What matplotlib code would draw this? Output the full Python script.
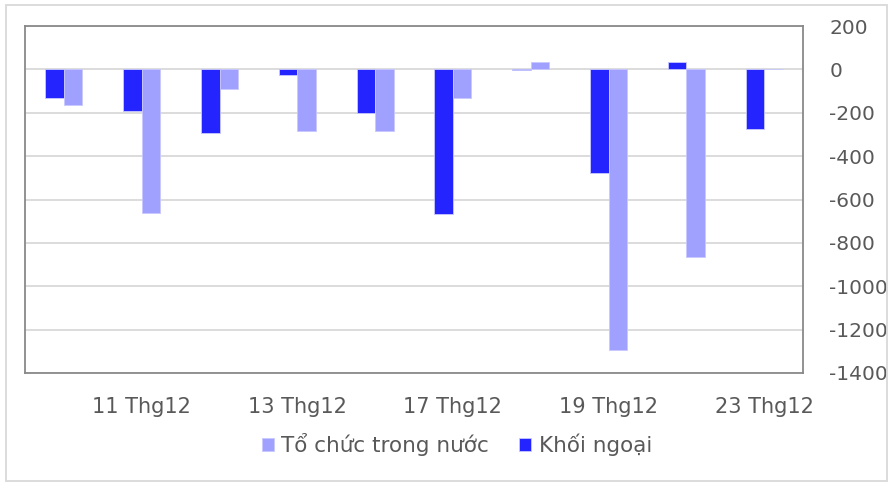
import matplotlib
matplotlib.use("Agg")
import matplotlib.pyplot as plt
import numpy as np
from matplotlib.patches import Rectangle

dates = ["10 Thg12", "11 Thg12", "12 Thg12", "13 Thg12", "16 Thg12",
         "17 Thg12", "18 Thg12", "19 Thg12", "20 Thg12", "23 Thg12"]
khoi_ngoai = [-134, -194, -294, -28, -203, -668, -5, -478, 32, -274]
to_chuc = [-162, -662, -92, -283, -283, -131, 34, -1295, -865, 0]
y_ticks = [200, 0, -200, -400, -600, -800, -1000, -1200, -1400]

dark = "#2424FF"
light = "#A0A0FF"
text_c = "#595959"

plt.rcParams['font.family'] = ['DejaVu Sans']
fig = plt.figure(figsize=(8.93, 4.87), dpi=100)
ax = fig.add_axes([25/893, 1-373/487, (803-25)/893, (373-26)/487])

x = np.arange(len(dates))
w = 0.238
b1 = ax.bar(x - w/2, khoi_ngoai, w, color=dark, edgecolor="#C8C8FF", linewidth=0.6, zorder=3)
b2 = ax.bar(x + w/2, to_chuc, w, color=light, edgecolor="#C8C8FF", linewidth=0.6, zorder=3)

ax.set_xlim(-0.5, len(dates) - 0.5)
ax.set_ylim(-1400, 200)
ax.set_yticks(y_ticks)
ax.set_yticklabels([str(v) for v in y_ticks])
ax.yaxis.tick_right()
ax.tick_params(axis='y', length=0, pad=19, labelsize=14.5, labelcolor=text_c)
for lbl in ax.get_yticklabels():
    lbl.set_horizontalalignment('left')
ax.grid(axis='y', color="#D9D9D9", linewidth=1.3, zorder=0)

ax.set_xticks(x[1::2])
ax.set_xticklabels(dates[1::2])
ax.tick_params(axis='x', length=0, pad=17, labelsize=15, labelcolor=text_c)

for s in ax.spines.values():
    s.set_color("#898989")
    s.set_linewidth(1.3)

leg = fig.legend([b2, b1], ["Tổ chức trong nước", "Khối ngoại"], loc='center',
                 bbox_to_anchor=(457/893, 1-445/487), ncol=2, frameon=False,
                 fontsize=15.5, handlelength=0.55, handleheight=0.55, handletextpad=0.35,
                 columnspacing=1.4, labelcolor=text_c)

fig.patches.append(Rectangle((6/893, 6/487), 881/893, 476/487, transform=fig.transFigure,
                             fill=False, edgecolor="#D9D9D9", linewidth=1.3))

fig.savefig("out.png", dpi=100)
